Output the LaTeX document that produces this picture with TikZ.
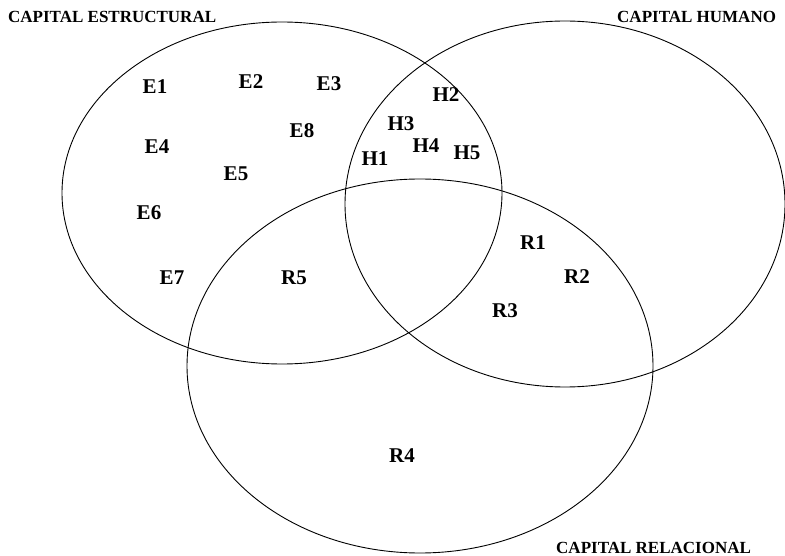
\documentclass[tikz,border=0pt]{standalone}
\usepackage{fontspec}
\setmainfont{Liberation Serif}
\usepackage{tikz}

\begin{document}
\begin{tikzpicture}[x=1pt, y=-1pt,
		set/.style={draw=black, line width=0.9pt},
		elem/.style={font=\bfseries\fontsize{21}{21}\selectfont, inner sep=0pt},
		title/.style={font=\bfseries\fontsize{17}{17}\selectfont, inner sep=0pt, anchor=west}
	]
		\useasboundingbox (0,0) rectangle (785,556);

		% the three sets
		\draw[set] (282,193) ellipse [x radius=220pt, y radius=171pt];
		\draw[set] (565,204) ellipse [x radius=220pt, y radius=183pt];
		\draw[set] (420,366) ellipse [x radius=233pt, y radius=187pt];

		\node[title] (estr) at (8,17) {CAPITAL ESTRUCTURAL};
		\node[title] (hum) at (617,17) {CAPITAL HUMANO};
		\node[title] (rel) at (556,548) {CAPITAL RELACIONAL};

		% elements
		\foreach \n/\x/\y in {E1/155/87, E2/251/82, E3/329/84, E4/157/147, E5/236/174,
			E6/149/213, E7/172/278, E8/302/131, H1/375/159, H2/446/95, H3/401/124,
			H4/426/146, H5/467/153, R1/533/243, R2/577/277, R3/505/311, R4/402/456, R5/294/278}
			\node[elem] (\n) at (\x,\y) {\n};
	\end{tikzpicture}
\end{document}
